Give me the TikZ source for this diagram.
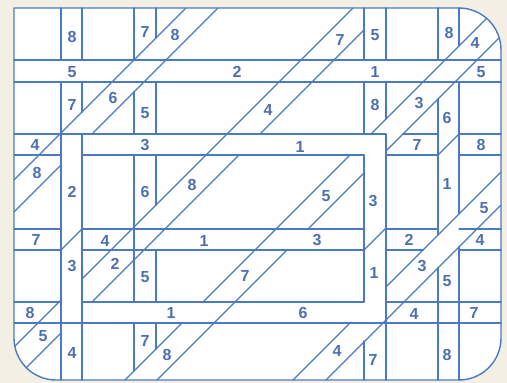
\documentclass[tikz,border=0pt]{standalone}
\usepackage{fontspec}
\setmainfont{Liberation Sans}
\definecolor{lineblue}{RGB}{74,122,196}
\definecolor{textblue}{RGB}{78,112,176}
\definecolor{bgbeige}{RGB}{244,239,228}
\begin{document}
\begin{tikzpicture}[x=1pt,y=-1pt,
  ln/.style={draw=lineblue,line width=1.4pt,line cap=round,line join=round},
  lbl/.style={text=textblue,font=\fontsize{16}{16}\selectfont\bfseries,inner sep=0pt}]
\fill[bgbeige] (0,0) rectangle (507,383);
\useasboundingbox (0,0) rectangle (507,383);
\path[ln,fill=white] (14,8) -- (459,8) arc[start angle=-90,end angle=0,radius=42] -- (501,338) arc[start angle=0,end angle=90,radius=42] -- (56,380) arc[start angle=90,end angle=180,radius=42] -- cycle;
% horizontal strip edges
\draw[ln] (14,60) -- (501,60);
\draw[ln] (14,82) -- (501,82);
\draw[ln] (14,134) -- (386,134) (403,134) -- (438,134) (459,134) -- (501,134);
\draw[ln] (14,155) -- (61,155) (82,155) -- (364,155) (386,155) -- (438,155) (459,155) -- (501,155);
\draw[ln] (14,229) -- (61,229) (82,229) -- (364,229) (386,229) -- (438,229) (459,229) -- (501,229);
\draw[ln] (14,250) -- (61,250) (82,250) -- (364,250) (386,250) -- (423,250) (459,250) -- (501,250);
\draw[ln] (14,302) -- (61,302) (82,302) -- (364,302) (386,302) -- (501,302);
\draw[ln] (14,323) -- (501,323);
% vertical strip edges
\draw[ln] (61,8) -- (61,60) (61,82) -- (61,380);
\draw[ln] (82,8) -- (82,60) (82,82) -- (82,112) (82,134) -- (82,380);
\draw[ln] (134,8) -- (134,60) (134,92) -- (134,134) (134,155) -- (134,302) (134,323) -- (134,371);
\draw[ln] (156,8) -- (156,38) (156,82) -- (156,134) (156,155) -- (156,205) (156,250) -- (156,302) (156,323) -- (156,349);
\draw[ln] (364,8) -- (364,60) (364,82) -- (364,134) (364,155) -- (364,302) (364,341) -- (364,380);
\draw[ln] (386,8) -- (386,60) (386,82) -- (386,119) (386,134) -- (386,380);
\draw[ln] (438,8) -- (438,60) (438,99) -- (438,235) (438,268) -- (438,380);
\draw[ln] (459,8) -- (459,46) (459,82) -- (459,214) (459,247) -- (459,380);
% diagonal strip edges
\draw[ln] (14,180) -- (186,8);
\draw[ln] (14,212) -- (61,165) (93,133) -- (218,8);
\draw[ln] (15,346) -- (61,300) (82,279) -- (353,8);
\draw[ln] (26,368) -- (61,333) (93,301) -- (239,155) (260,134) -- (364,30);
\draw[ln] (125,380) -- (182,323) (203,302) -- (350,155) (371,134) -- (486.6,18.4);
\draw[ln] (157,380) -- (287,250) (309,228) -- (364,173) (386,151) -- (499,38);
\draw[ln] (293,380) -- (351,322) (386,287) -- (501,172);
\draw[ln] (326,380) -- (501,205);
\draw[ln] (61,250) -- (82,229) (364,250) -- (386,228) (438,155) -- (459,134);
% labels
\node[lbl] (t1) at (72,37) {8};
\node[lbl] (t2) at (145,32) {7};
\node[lbl] (t3) at (175,35) {8};
\node[lbl] (t4) at (340,40) {7};
\node[lbl] (t5) at (375,35) {5};
\node[lbl] (t6) at (449,33) {8};
\node[lbl] (t7) at (475,43) {4};
\node[lbl] (r1a) at (72,72) {5};
\node[lbl] (r1b) at (237,72) {2};
\node[lbl] (r1c) at (375,72) {1};
\node[lbl] (r1d) at (481,72) {5};
\node[lbl] (m1a) at (72,105) {7};
\node[lbl] (m1b) at (113,98) {6};
\node[lbl] (m1c) at (145,113) {5};
\node[lbl] (m1d) at (268,110) {4};
\node[lbl] (m1e) at (375,105) {8};
\node[lbl] (m1f) at (419,103) {3};
\node[lbl] (m1g) at (447,118) {6};
\node[lbl] (r2a) at (35,145) {4};
\node[lbl] (r2b) at (145,145) {3};
\node[lbl] (r2c) at (300,147) {1};
\node[lbl] (r2d) at (417,145) {7};
\node[lbl] (r2e) at (481,145) {8};
\node[lbl] (m2a) at (37,173) {8};
\node[lbl] (m2b) at (72,192) {2};
\node[lbl] (m2c) at (145,192) {6};
\node[lbl] (m2d) at (192,185) {8};
\node[lbl] (m2e) at (326,196) {5};
\node[lbl] (m2f) at (373,201) {3};
\node[lbl] (m2g) at (447,184) {1};
\node[lbl] (m2h) at (484,208) {5};
\node[lbl] (r3a) at (36,240) {7};
\node[lbl] (r3b) at (105,241) {4};
\node[lbl] (r3c) at (204,241) {1};
\node[lbl] (r3d) at (317,240) {3};
\node[lbl] (r3e) at (409,240) {2};
\node[lbl] (r3f) at (480,240) {4};
\node[lbl] (m3a) at (72,266) {3};
\node[lbl] (m3b) at (115,264) {2};
\node[lbl] (m3c) at (145,277) {5};
\node[lbl] (m3d) at (245,276) {7};
\node[lbl] (m3e) at (374,273) {1};
\node[lbl] (m3f) at (422,266) {3};
\node[lbl] (m3g) at (447,281) {5};
\node[lbl] (r4a) at (30,313) {8};
\node[lbl] (r4b) at (171,313) {1};
\node[lbl] (r4c) at (303,313) {6};
\node[lbl] (r4d) at (414,314) {4};
\node[lbl] (r4e) at (474,313) {7};
\node[lbl] (b1) at (43,336) {5};
\node[lbl] (b2) at (72,353) {4};
\node[lbl] (b3) at (145,341) {7};
\node[lbl] (b4) at (167,355) {8};
\node[lbl] (b5) at (337,351) {4};
\node[lbl] (b6) at (373,360) {7};
\node[lbl] (b7) at (447,355) {8};
\end{tikzpicture}
\end{document}
